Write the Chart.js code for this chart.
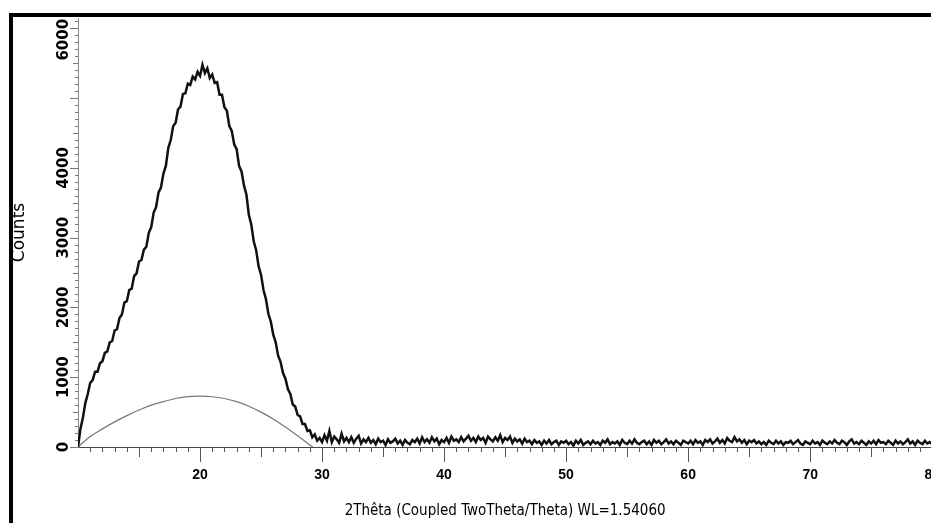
<!DOCTYPE html>
<html>
<head>
<meta charset="utf-8">
<script src="https://cdn.jsdelivr.net/npm/chart.js@4.4.1/dist/chart.umd.min.js"></script>
<style>
  html, body { margin: 0; padding: 0; background: #fff; overflow: hidden; }
  #wrap { width: 931px; height: 523px; overflow: hidden; }
</style>
</head>
<body>
<div id="wrap"><canvas id="xrd" width="960" height="523"></canvas></div>
<script>
// scan: 2theta from 10 to 80 deg, one reading every 0.2 deg
const scanStart = 10;
const scanStep = 0.2;
const counts = [
  0, 260, 420, 630, 760, 920, 960, 1080, 1080, 1200,
  1230, 1350, 1370, 1500, 1520, 1670, 1690, 1850, 1900, 2070,
  2090, 2250, 2270, 2450, 2490, 2660, 2680, 2830, 2870, 3070,
  3150, 3360, 3440, 3650, 3720, 3920, 4030, 4290, 4400, 4600,
  4650, 4840, 4880, 5060, 5070, 5210, 5190, 5310, 5270, 5380,
  5320, 5480, 5360, 5430, 5290, 5340, 5220, 5230, 5050, 5050,
  4870, 4820, 4600, 4530, 4340, 4270, 4030, 3950, 3750, 3620,
  3330, 3190, 2950, 2820, 2590, 2470, 2250, 2120, 1910, 1800,
  1610, 1500, 1310, 1220, 1060, 980, 830, 760, 610, 580,
  460, 440, 330, 330, 230, 240, 140, 180, 90, 130,
  70,
  170, 90, 230, 70, 150, 110, 60, 190, 80, 130,
  70, 140, 60, 120, 160, 50, 110, 70, 130, 60,
  100, 40, 120, 70, 90, 30, 110, 60, 80, 120,
  50, 90, 30, 100, 60, 40, 100, 70, 120, 50,
  140, 70, 110, 60, 140, 80, 120, 40, 100, 70,
  130, 60, 150, 90, 110, 70, 140, 80, 120, 160,
  90, 130, 70, 150, 100, 130, 60, 150, 110, 80,
  140, 90, 170, 70, 130, 100, 150, 60, 120, 80,
  110, 50, 120, 70, 90, 40, 100, 60, 80, 30,
  90, 50, 100, 40, 70, 90, 30, 80, 60, 90,
  40, 70, 20, 90, 50, 100, 30, 60, 80, 40,
  90, 50, 70, 30, 90, 60, 110, 40, 70, 50,
  80, 30, 100, 60, 40, 90, 50, 110, 60, 40,
  70, 90, 40, 80, 30, 100, 60, 90, 40, 70,
  110, 50, 80, 40, 90, 60, 30, 90, 70, 50,
  90, 40, 100, 60, 80, 30, 100, 70, 110, 50,
  80, 120, 60, 100, 50, 130, 90, 70, 140, 80,
  110, 60, 100, 40, 90, 70, 100, 50, 80, 40,
  70, 30, 90, 60, 40, 90, 50, 80, 30, 70,
  60, 90, 40, 70, 100, 50, 30, 80, 60, 40,
  90, 50, 70, 30, 90, 60, 40, 80, 50, 100,
  60, 40, 90, 70, 30, 80, 110, 50, 70, 40,
  90, 60, 30, 80, 50, 90, 40, 100, 60, 70,
  40, 90, 60, 30, 90, 50, 80, 40, 70, 110,
  50, 80, 30, 90, 60, 40, 90, 50, 70, 40
];

// amorphous background under the hump
const bgAngles = [10, 11, 12, 13, 14, 15, 16, 17, 18, 19, 20, 21, 22, 23, 24, 25, 26, 27, 28, 29, 29.25];
const bgCounts = [0, 150, 260, 360, 450, 530, 600, 650, 695, 722, 730, 720, 695, 650, 585, 500, 400, 285, 160, 30, 0];

const xTickLabels = [20, 30, 40, 50, 60, 70, 80];
const yTickLabels = [0, 1000, 2000, 3000, 4000, 6000];

const scanPoints = counts.map((c, i) => ({ x: scanStart + i * scanStep, y: c }));
const bgPoints = bgAngles.map((a, i) => ({ x: a, y: bgCounts[i] }));

const narrow = "'DejaVu Sans Condensed', 'DejaVu Sans', sans-serif";
const arial = "'Liberation Sans', Arial, sans-serif";
const wide = "'DejaVu Sans', sans-serif";

// white page + the thick frame of the original figure
const frame = {
  id: 'frame',
  beforeDraw(chart) {
    const ctx = chart.ctx;
    ctx.save();
    ctx.fillStyle = '#fff';
    ctx.fillRect(0, 0, chart.width, chart.height);
    ctx.strokeStyle = '#000';
    ctx.lineWidth = 4;
    ctx.beginPath();
    ctx.moveTo(11, chart.height);
    ctx.lineTo(11, 15);
    ctx.lineTo(chart.width, 15);
    ctx.stroke();
    ctx.restore();
  }
};

// major / medium / minor tick marks, taken from the scales' own ticks
const tickMarks = {
  id: 'tickMarks',
  afterDraw(chart) {
    const { ctx, scales: { x, y } } = chart;
    ctx.save();
    ctx.lineWidth = 1;
    ctx.strokeStyle = '#555';
    ctx.beginPath();
    x.ticks.forEach(t => {
      if (t.value === 10) return;
      const px = Math.round(x.getPixelForValue(t.value)) + 0.5;
      const len = t.value % 10 === 0 ? 15 : (t.value % 5 === 0 ? 10 : 5);
      ctx.moveTo(px, x.top);
      ctx.lineTo(px, x.top + len);
    });
    ctx.stroke();
    ctx.strokeStyle = '#777';
    ctx.beginPath();
    y.ticks.forEach(t => {
      const py = Math.round(y.getPixelForValue(t.value)) + 0.5;
      const len = t.value % 1000 === 0 ? 8 : (t.value % 500 === 0 ? 5 : 3);
      ctx.moveTo(y.right, py);
      ctx.lineTo(y.right - len, py);
    });
    ctx.stroke();
    ctx.restore();
  }
};

Chart.defaults.color = '#000';

new Chart(document.getElementById('xrd'), {
  type: 'line',
  data: {
    datasets: [
      {
        label: 'Scan',
        data: scanPoints,
        borderColor: '#111',
        borderWidth: 2.5,
        pointRadius: 0,
        tension: 0
      },
      {
        label: 'Background',
        data: bgPoints,
        borderColor: '#777',
        borderWidth: 1.2,
        pointRadius: 0,
        tension: 0.4
      }
    ]
  },
  options: {
    responsive: false,
    animation: false,
    events: [],
    layout: { padding: { top: 18, right: 22, left: 0, bottom: 0 } },
    plugins: { legend: { display: false }, tooltip: { enabled: false } },
    scales: {
      x: {
        type: 'linear',
        min: 10,
        max: 80,
        afterFit: s => { s.height = 76; },
        afterBuildTicks: s => {
          const t = [];
          for (let v = 10; v <= 80; v++) t.push({ value: v });
          s.ticks = t;
        },
        ticks: {
          autoSkip: false,
          maxRotation: 0,
          padding: 20,
          font: { family: arial, size: 14, weight: 'bold' },
          callback: v => xTickLabels.includes(v) ? String(v) : ''
        },
        grid: { display: false, drawTicks: false },
        border: { display: true, color: '#444', width: 1 },
        title: {
          display: true,
          text: '2Thêta (Coupled TwoTheta/Theta) WL=1.54060',
          font: { family: narrow, size: 15 },
          padding: { top: 0, bottom: 3 }
        }
      },
      y: {
        min: 0,
        max: 6150,
        afterFit: s => { s.width = 78; },
        afterBuildTicks: s => {
          const t = [];
          for (let v = 0; v <= 6100; v += 100) t.push({ value: v });
          s.ticks = t;
        },
        ticks: {
          autoSkip: false,
          minRotation: 90,
          maxRotation: 90,
          crossAlign: 'center',
          padding: -18,
          font: { family: wide, size: 15, weight: 'bold' },
          // the top label sits below its tick so it stays inside the frame
          callback: v => !yTickLabels.includes(v) ? '' : (v === 6000 ? '6000\u2002\u2002\u2002' : String(v))
        },
        grid: { display: false, drawTicks: false },
        border: { display: true, color: '#888', width: 1 },
        title: {
          display: true,
          text: 'Counts',
          font: { family: wide, size: 17 },
          padding: { top: 9, bottom: 0 }
        }
      }
    }
  },
  plugins: [frame, tickMarks]
});
</script>
</body>
</html>
